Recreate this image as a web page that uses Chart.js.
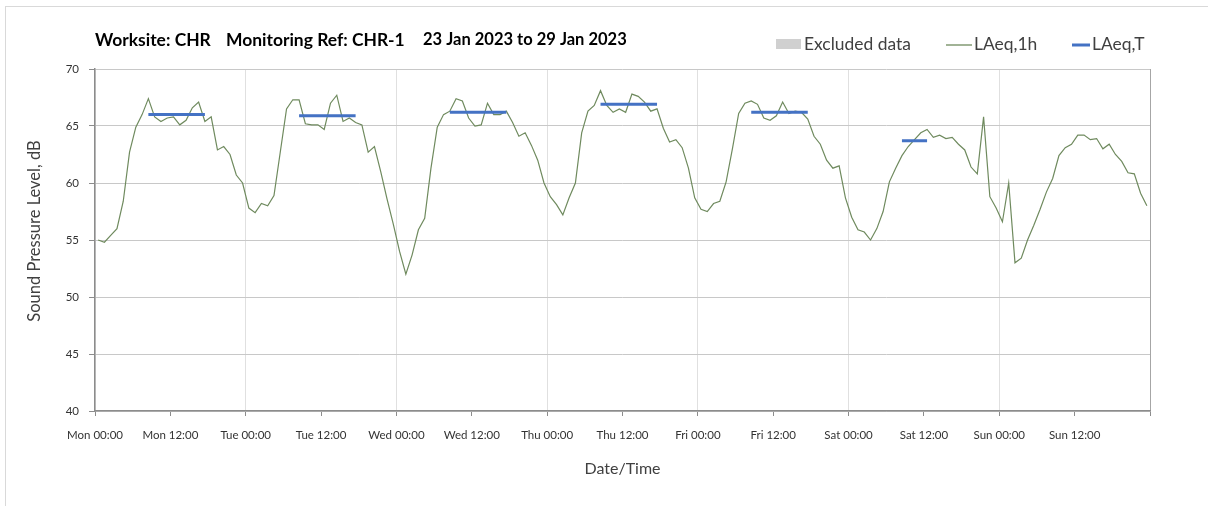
<!DOCTYPE html>
<html lang="en">
<head>
<meta charset="UTF-8">
<title>CHR-1 Sound Pressure Level</title>
<script src="https://cdn.jsdelivr.net/npm/chart.js"></script>
<style>
  html, body { margin: 0; padding: 0; background: #fff; }
  #wrap { position: relative; width: 1208px; height: 506px; overflow: hidden; }
  #frame { position: absolute; left: 5px; top: 6px; width: 1400px; height: 700px;
           border: 1px solid #d9d9d9; pointer-events: none; }
</style>
</head>
<body>
<div id="wrap">
  <div id="frame"></div>
  <canvas id="splChart"></canvas>
</div>
<script>
// hourly LAeq,1h, Mon 00:00 .. Sun 23:00 (plotted mid-hour)
const LAEQ_1H = [
  55.0, 54.8, 55.4, 56.0, 58.4, 62.7, 64.9, 66.0, 67.4, 65.8, 65.4, 65.7,
  65.8, 65.1, 65.5, 66.6, 67.1, 65.4, 65.8, 62.9, 63.2, 62.5, 60.7, 60.0,
  57.8, 57.4, 58.2, 58.0, 58.9, 62.7, 66.5, 67.3, 67.3, 65.2, 65.1, 65.1,
  64.7, 67.0, 67.7, 65.4, 65.7, 65.3, 65.1, 62.7, 63.2, 61.0, 58.6, 56.4,
  54.0, 52.0, 53.7, 55.9, 56.9, 61.3, 64.9, 66.0, 66.3, 67.4, 67.2, 65.7,
  65.0, 65.1, 67.0, 66.0, 66.0, 66.3, 65.3, 64.1, 64.4, 63.3, 62.0, 60.0,
  58.8, 58.1, 57.2, 58.7, 60.0, 64.4, 66.3, 66.8, 68.1, 66.8, 66.2, 66.5,
  66.2, 67.8, 67.6, 67.1, 66.3, 66.5, 64.8, 63.6, 63.8, 63.1, 61.3, 58.7,
  57.7, 57.5, 58.2, 58.4, 60.1, 63.0, 66.1, 67.0, 67.2, 66.9, 65.7, 65.5,
  65.9, 67.1, 66.1, 66.3, 66.2, 65.6, 64.1, 63.4, 62.0, 61.3, 61.5, 58.7,
  57.0, 55.9, 55.7, 55.0, 56.0, 57.5, 60.1, 61.3, 62.4, 63.2, 63.8, 64.4,
  64.7, 64.0, 64.2, 63.9, 64.0, 63.4, 62.9, 61.4, 60.8, 65.8, 58.8, 57.8,
  56.6, 60.0, 53.0, 53.4, 55.0, 56.3, 57.7, 59.2, 60.4, 62.4, 63.1, 63.4,
  64.2, 64.2, 63.8, 63.9, 63.0, 63.4, 62.5, 61.9, 60.9, 60.8, 59.1, 58.0
];

// LAeq,T daytime periods (hours from Mon 00:00)
const PERIOD_START = [8, 32, 56, 80, 104, 128];
const PERIOD_END = [18, 42, 66, 90, 114, 133];
const LAEQ_T = [66.0, 65.9, 66.2, 66.9, 66.2, 63.7];

const X_TICKS = [0, 12, 24, 36, 48, 60, 72, 84, 96, 108, 120, 132, 144, 156, 168];
const X_TICK_LABELS = ['Mon 00:00', 'Mon 12:00', 'Tue 00:00', 'Tue 12:00', 'Wed 00:00',
  'Wed 12:00', 'Thu 00:00', 'Thu 12:00', 'Fri 00:00', 'Fri 12:00', 'Sat 00:00',
  'Sat 12:00', 'Sun 00:00', 'Sun 12:00', ''];
const Y_TICKS = [40, 45, 50, 55, 60, 65, 70];

const FONT = 'Lato';
const GREEN = '#6f8a5e';
const BLUE = '#4472c4';

const hourlyPoints = LAEQ_1H.map((v, i) => ({ x: i + 0.5, y: v }));
const periodPoints = [];
LAEQ_T.forEach((v, i) => {
  periodPoints.push({ x: PERIOD_START[i] + 0.5, y: v });
  periodPoints.push({ x: PERIOD_END[i] - 0.5, y: v });
  periodPoints.push({ x: PERIOD_END[i], y: null });
});

// scale font so the text covers the given width
function fitText(ctx, text, x, y, width, weight, size) {
  ctx.font = `${weight} ${size}px ${FONT}`;
  const s = size * width / ctx.measureText(text).width;
  ctx.font = `${weight} ${s.toFixed(2)}px ${FONT}`;
  ctx.fillText(text, x, y);
  return s;
}

const headerPlugin = {
  id: 'header',
  afterDraw(chart) {
    const ctx = chart.ctx;
    ctx.save();
    ctx.textBaseline = 'middle';
    ctx.textAlign = 'left';

    ctx.fillStyle = '#000';
    fitText(ctx, 'Worksite: CHR', 95, 40, 116, 'bold', 15);
    fitText(ctx, 'Monitoring Ref: CHR-1', 226, 40, 179, 'bold', 15);
    fitText(ctx, '23 Jan 2023 to 29 Jan 2023', 423, 40, 204, 'bold', 15);

    // legend
    ctx.fillStyle = '#d0d0d0';
    ctx.fillRect(776, 39, 25, 10);
    ctx.fillStyle = '#404040';
    const ls = fitText(ctx, 'Excluded data', 804, 44, 107, 'normal', 15);
    ctx.font = `normal ${ls.toFixed(2)}px ${FONT}`;
    ctx.fillText('LAeq,1h', 974, 44);
    ctx.fillText('LAeq,T', 1092, 44);
    ctx.lineCap = 'butt';
    ctx.strokeStyle = GREEN;
    ctx.lineWidth = 1.3;
    ctx.beginPath(); ctx.moveTo(946, 45); ctx.lineTo(972, 45); ctx.stroke();
    ctx.strokeStyle = BLUE;
    ctx.lineWidth = 3;
    ctx.beginPath(); ctx.moveTo(1072, 45); ctx.lineTo(1090, 45); ctx.stroke();

    // y axis title
    ctx.translate(35, 231);
    ctx.rotate(-Math.PI / 2);
    ctx.textAlign = 'center';
    ctx.fillStyle = '#404040';
    ctx.font = `normal 16.5px ${FONT}`;
    ctx.fillText('Sound Pressure Level, dB', 0, 0);
    ctx.restore();
  }
};

new Chart(document.getElementById('splChart'), {
  type: 'line',
  data: {
    datasets: [
      {
        label: 'LAeq,T',
        data: periodPoints,
        borderColor: BLUE,
        borderWidth: 3,
        spanGaps: false,
        pointRadius: 0,
        order: 0
      },
      {
        label: 'LAeq,1h',
        data: hourlyPoints,
        borderColor: GREEN,
        borderWidth: 1.2,
        pointRadius: 0,
        tension: 0,
        order: 1
      }
    ]
  },
  options: {
    responsive: true,
    maintainAspectRatio: false,
    animation: false,
    layout: { padding: { top: 69, right: 58, left: 0, bottom: 0 } },
    plugins: { legend: { display: false }, tooltip: { enabled: false } },
    scales: {
      x: {
        type: 'linear',
        min: 0,
        max: 168,
        afterFit: s => { s.height = 95; },
        afterBuildTicks: s => { s.ticks = X_TICKS.map(v => ({ value: v })); },
        grid: {
          color: c => {
            const v = c.tick ? c.tick.value : -1;
            if (v === 168) return '#a6a6a6';
            return v % 24 === 0 ? '#e0e0e0' : 'rgba(0,0,0,0)';
          },
          tickColor: '#8c8c8c',
          tickLength: 5,
          lineWidth: 1
        },
        border: { color: '#8c8c8c', width: 1.5 },
        ticks: {
          callback: (v, i) => X_TICK_LABELS[i],
          font: { family: FONT, size: 11.5 },
          color: '#333',
          padding: 12,
          maxRotation: 0,
          autoSkip: false
        },
        title: {
          display: true,
          text: 'Date/Time',
          font: { family: FONT, size: 16 },
          color: '#404040',
          padding: { top: 0, bottom: 28 }
        }
      },
      y: {
        min: 40,
        max: 70,
        afterFit: s => { s.width = 95; },
        afterBuildTicks: s => { s.ticks = Y_TICKS.map(v => ({ value: v })); },
        grid: { color: '#c8c8c8', tickColor: '#8c8c8c', tickLength: 6, lineWidth: 1 },
        border: { color: '#8c8c8c', width: 1.5 },
        ticks: {
          font: { family: FONT, size: 11.5 },
          color: '#333',
          padding: 10
        }
      }
    }
  },
  plugins: [headerPlugin]
});
</script>
</body>
</html>
